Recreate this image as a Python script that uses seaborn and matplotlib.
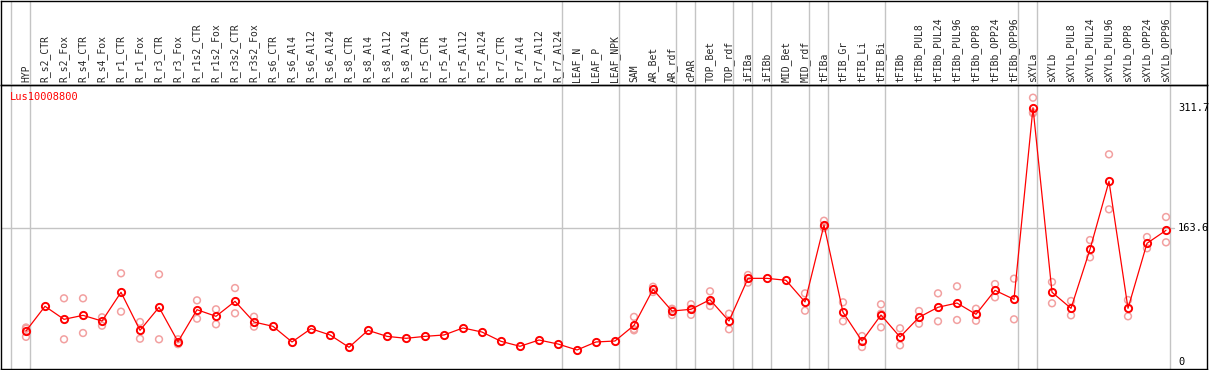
import pandas as pd
import matplotlib
matplotlib.use("Agg")
import matplotlib.pyplot as plt
import seaborn as sns

labels = ['HYP', 'R_s2_CTR', 'R_s2_Fox', 'R_s4_CTR', 'R_s4_Fox', 'R_r1_CTR', 'R_r1_Fox',
          'R_r3_CTR', 'R_r3_Fox', 'R_r1s2_CTR', 'R_r1s2_Fox', 'R_r3s2_CTR', 'R_r3s2_Fox',
          'R_s6_CTR', 'R_s6_Al4', 'R_s6_Al12', 'R_s6_Al24', 'R_s8_CTR', 'R_s8_Al4',
          'R_s8_Al12', 'R_s8_Al24', 'R_r5_CTR', 'R_r5_Al4', 'R_r5_Al12', 'R_r5_Al24',
          'R_r7_CTR', 'R_r7_Al4', 'R_r7_Al12', 'R_r7_Al24', 'LEAF_N', 'LEAF_P', 'LEAF_NPK',
          'SAM', 'AR_Bet', 'AR_rdf', 'cPAR', 'TOP_Bet', 'TOP_rdf', 'iFIBa', 'iFIBb',
          'MID_Bet', 'MID_rdf', 'tFIBa', 'tFIB_Gr', 'tFIB_Li', 'tFIB_Bi', 'tFIBb',
          'tFIBb_PUL8', 'tFIBb_PUL24', 'tFIBb_PUL96', 'tFIBb_OPP8', 'tFIBb_OPP24',
          'tFIBb_OPP96', 'sXYLa', 'sXYLb', 'sXYLb_PUL8', 'sXYLb_PUL24', 'sXYLb_PUL96',
          'sXYLb_OPP8', 'sXYLb_OPP24', 'sXYLb_OPP96']

means = [37.7, 68.0, 52.0, 56.9, 49.9, 85.2, 38.5, 66.8, 24.5, 63.8, 55.7, 74.1, 48.7,
         43.4, 24.2, 40.5, 32.8, 17.7, 38.5, 31.1, 28.7, 31.1, 32.8, 41.4, 36.4,
         25.0, 18.9, 26.6, 21.7, 14.4, 24.2, 25.4,
         44.6, 88.8, 62.2, 64.3, 76.1, 49.9, 102.3, 102.3, 99.9, 73.3,
         167.7, 60.6, 25.4, 57.3, 30.3, 54.5, 66.8, 72.0, 58.2, 87.6, 76.5,
         311.7, 85.2, 65.5, 137.9, 221.4, 65.5, 145.3, 161.2]

reps = [[42, 30.5, 40.5], [], [77.8, 27.5], [77.8, 35.2], [54.5, 44.2], [108.5, 61.4],
        [48.7, 28.2], [107.2, 27.5], [27.5, 21.5], [75.3, 52.8], [64.3, 45.9],
        [90.4, 59.4], [55.2, 43.0],
        [], [], [], [], [], [], [], [], [], [], [], [], [], [], [], [], [], [], [],
        [55.0, 40.0, 38.5], [92.0, 85.5], [64.3, 65.0, 57.3], [70.5, 57.5, 65.0],
        [86.4, 68.4, 74.0], [58.9, 39.8], [106.4, 97.0], [], [], [83.9, 62.6],
        [173.0, 166.0, 164.0], [72.9, 49.6], [31.5, 18.0], [70.4, 42.2, 59.0],
        [41.0, 20.1], [62.2, 46.6], [83.9, 49.6], [92.5, 51.2], [65.0, 50.3],
        [95.3, 79.0], [101.9, 52.0],
        [324.0, 306.0, 305.0], [97.8, 71.7], [74.5, 56.9], [149.3, 128.1],
        [254.5, 187.0], [75.7, 55.7], [153.0, 139.2], [177.6, 146.5]]

# last sample of each group -> grey separator drawn just right of it
group_ends = [-1, 0, 28, 31, 34, 35, 37, 38, 39, 41, 42, 45, 52, 53, 60]
ytick_vals = [0, 163.6, 311.7]
ytick_text = ['0', '163.6', '311.7']
gene = 'Lus10008800'

df_mean = pd.DataFrame({'pos': range(len(labels)), 'sample': labels, 'value': means})
df_rep = pd.DataFrame([(i, v) for i, r in enumerate(reps) for v in r], columns=['pos', 'value'])

sns.set_style('white')
plt.rcParams['font.family'] = ['DejaVu Sans Mono']

W, H = 1209, 370
fig = plt.figure(figsize=(W / 100, H / 100), dpi=100)
fig.patch.set_facecolor('white')

top_px, bot_px, left_px, right_px = 84.5, 368.6, 1, 1207
ax = fig.add_axes([left_px / W, (H - bot_px) / H, (right_px - left_px) / W, (bot_px - top_px) / H])
hax = fig.add_axes([left_px / W, (H - top_px) / H, (right_px - left_px) / W, (top_px - 0.5) / H])
hax.patch.set_visible(False)

xlim = ((left_px - 26) / 19, (right_px - 26) / 19)
for a in (ax, hax):
    a.set_xlim(*xlim)
    for s in a.spines.values():
        s.set_color('black')
        s.set_linewidth(1.0)
    for g in group_ends:
        a.axvline(g + 0.23, color='#c4c4c4', lw=1.0, zorder=0)
hax.set_ylim(0, 1)
hax.set_xticks([])
hax.set_yticks([])

ax.set_ylim(-8.47, 340.2)
ax.axhline(163.6, xmax=(1174 - left_px) / (right_px - left_px), color='#c4c4c4', lw=1.0, zorder=0)

sns.scatterplot(data=df_rep, x='pos', y='value', ax=ax, marker='o', s=24,
                facecolors='none', edgecolor='#f2a0a0', linewidth=1.1, zorder=2, legend=False)
sns.lineplot(data=df_mean, x='pos', y='value', ax=ax, color='red', lw=0.9,
             marker='o', markersize=5.2, markerfacecolor='none', markeredgecolor='red',
             markeredgewidth=1.4, zorder=3)

ax.xaxis.set_ticks_position('top')
ax.set_xticks(range(len(labels)))
ax.set_xticklabels(labels, rotation=90, fontsize=7)
ax.tick_params(axis='x', length=0, pad=1.5)
ax.set_yticks([])
ax.set_xlabel('')
ax.set_ylabel('')

ytr = ax.get_yaxis_transform()
for v, t in zip(ytick_vals, ytick_text):
    ax.text((1178 - left_px) / (right_px - left_px), v, t, transform=ytr,
            fontsize=7.5, va='center', ha='left', color='black')

ax.text((10 - left_px) / (right_px - left_px), 0.957, gene, transform=ax.transAxes,
        fontsize=7.5, color='red', va='center', ha='left')

fig.savefig('out.png', dpi=100)
